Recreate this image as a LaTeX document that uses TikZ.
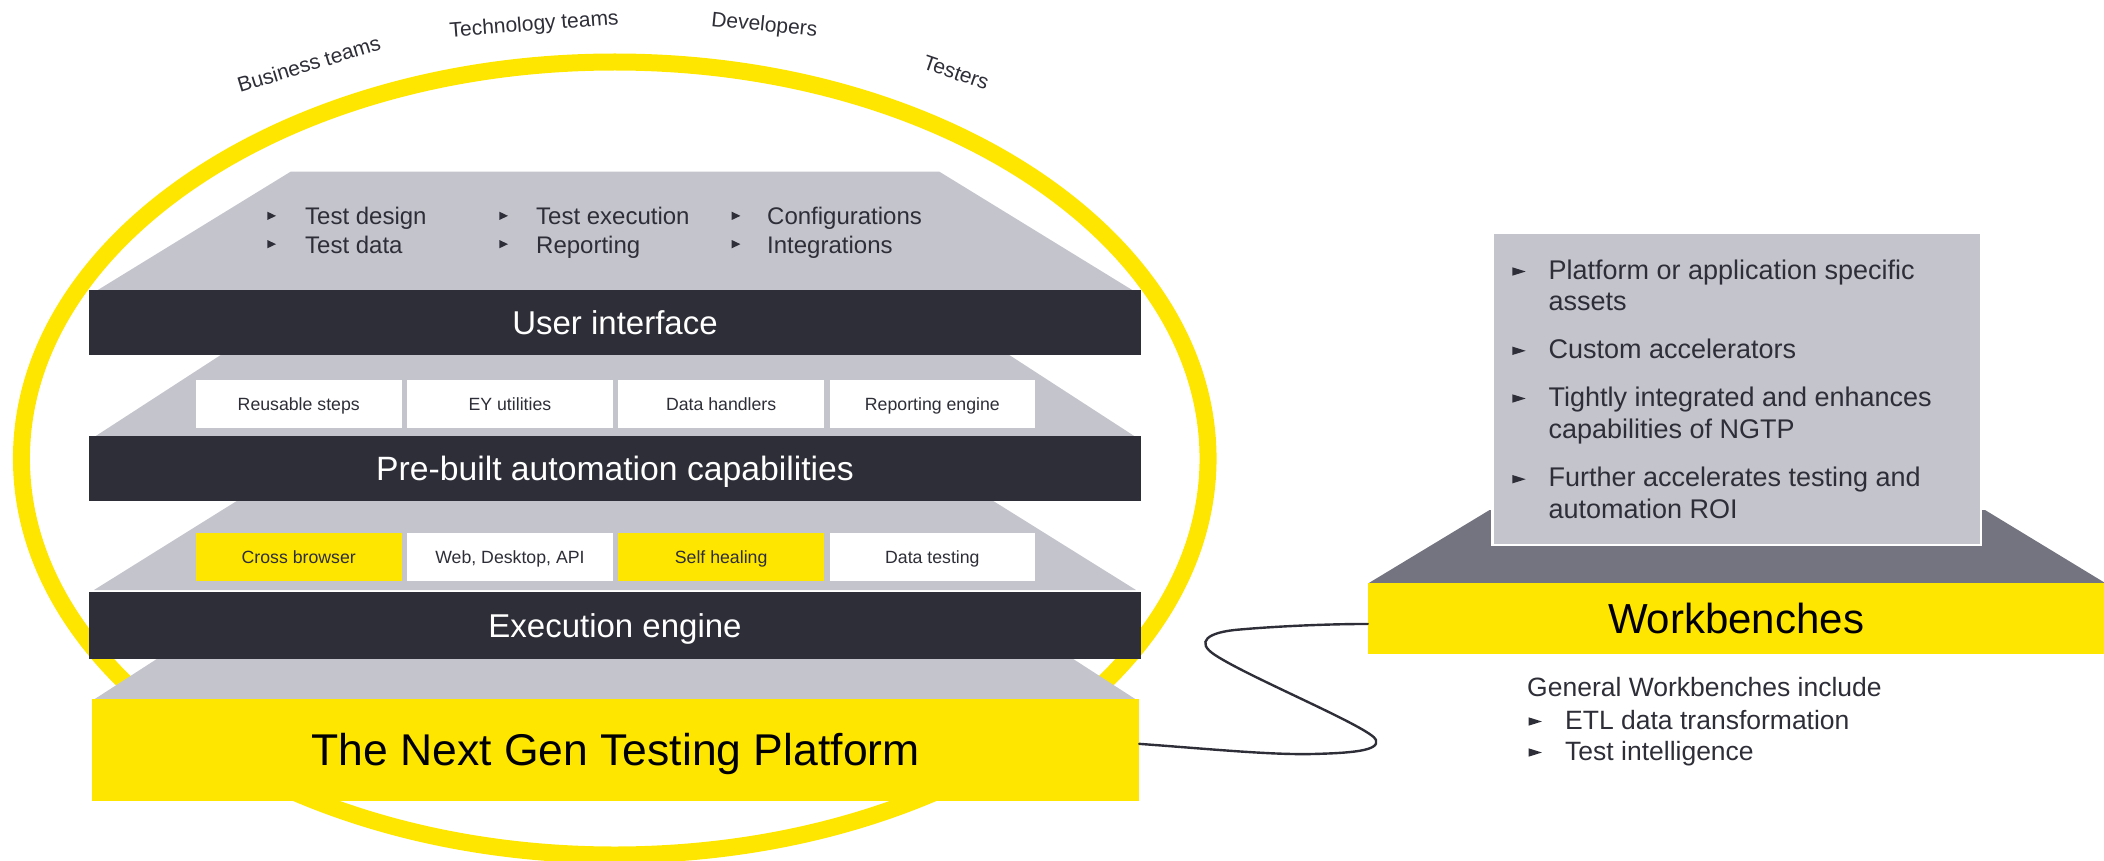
\documentclass[tikz,border=0pt]{standalone}
\usepackage{fontspec}
\setmainfont{Liberation Sans}
\definecolor{eyy}{HTML}{FFE600}
\definecolor{eyd}{HTML}{2E2E38}
\definecolor{eyg}{HTML}{C4C4CD}
\definecolor{eym}{HTML}{747480}
\newcommand{\fsz}[1]{\fontsize{#1}{#1}\selectfont}
\tikzset{
  bar/.style={fill=eyd, text=white, minimum width=1052pt, inner sep=0pt,
    font=\fsz{33}, text height=23.6pt, text depth=0pt},
  cellbox/.style={fill=white, text=eyd, minimum width=205.5pt, minimum height=47.7pt,
    inner sep=0pt, font=\fsz{17.7}, text height=12.7pt, text depth=0pt},
  ycell/.style={cellbox, fill=eyy},
  lst/.style={anchor=base west, inner sep=0pt, text=eyd, font=\fsz{24}},
  rlst/.style={anchor=base west, inner sep=0pt, text=eyd, font=\fsz{27}},
  glst/.style={anchor=base west, inner sep=0pt, text=eyd, font=\fsz{26.5}},
  toplabel/.style={anchor=base west, inner sep=0pt, text=eyd, font=\fsz{21}},
  bulA/.pic={\fill[eyd] (0,-5) -- (0,-13.3) -- (8.7,-9.15) -- cycle;},
  bulB/.pic={\fill[eyd] (0,-3.3) -- (0,-11.7) -- (13.4,-7.5) -- cycle;},
}
\begin{document}
\begin{tikzpicture}[x=1pt, y=-1pt]
\useasboundingbox (0,0) rectangle (2104,861);

% ring
\draw[eyy, line width=17pt] (614.75,458.5) ellipse [x radius=593.3pt, y radius=396.5pt];

% user labels
\node[toplabel, rotate=17] (lbiz) at (240,92.7) {Business teams};
\node[toplabel, rotate=4.4] (ltech) at (450,37.3) {Technology teams};
\node[toplabel, rotate=-5.8] (ldev) at (710.7,26) {Developers};
\node[toplabel, rotate=-19] (ltest) at (921.7,68.3) {Testers};

% trapezoids
\fill[eyg] (290.6,171.7) -- (939.4,171.7) -- (1133,290.5) -- (97,290.5) -- cycle;
\fill[eyg] (221.5,354.5) -- (1008.5,354.5) -- (1135,436.5) -- (95,436.5) -- cycle;
\fill[eyg] (238,500.2) -- (992,500.2) -- (1136,590) -- (94,590) -- cycle;
\fill[eyg] (158,658.2) -- (1072,658.2) -- (1136,699.5) -- (94,699.5) -- cycle;

% top list
\pic at (267.3,225) {bulA};
\pic at (267.3,253.3) {bulA};
\pic at (499.3,225) {bulA};
\pic at (499.3,253.3) {bulA};
\pic at (731.7,225) {bulA};
\pic at (731.7,253.3) {bulA};
\node[lst] (tdes) at (305,225) {Test design};
\node[lst] (tdat) at (305,253.3) {Test data};
\node[lst] (texe) at (536,225) {Test execution};
\node[lst] (trep) at (536,253.3) {Reporting};
\node[lst] (tcfg) at (767,225) {Configurations};
\node[lst] (tint) at (767,253.3) {Integrations};

% bars
\node[bar, minimum height=65pt] (ui) at (615,322.5) {User interface};
\node[bar, minimum height=64.7pt, font=\fsz{33.7}] (pre) at (615,468.35) {Pre-built automation capabilities};
\node[bar, minimum height=67pt] (exe) at (615,625.2) {Execution engine};

% cells
\node[cellbox] (c1) at (298.75,403.85) {Reusable steps};
\node[cellbox] (c2) at (509.95,403.85) {EY utilities};
\node[cellbox] (c3) at (721.15,403.85) {Data handlers};
\node[cellbox] (c4) at (932.35,403.85) {Reporting engine};
\node[ycell] (d1) at (298.75,557) {Cross browser};
\node[cellbox] (d2) at (509.95,557) {Web, Desktop, API};
\node[ycell] (d3) at (721.15,557) {Self healing};
\node[cellbox] (d4) at (932.35,557) {Data testing};

% platform
\node[fill=eyy, minimum width=1047pt, minimum height=101.7pt, inner sep=0pt,
  font=\fsz{44.5}, text height=31.8pt, text depth=0pt] (ngtp) at (615.5,749.85)
  {The Next Gen Testing Platform};

% workbenches
\fill[eym] (1489.6,510) -- (1985,510) -- (2106,583.5) -- (1368,583.5) -- cycle;
\node[fill=eyg, draw=white, line width=2.5pt, minimum width=488.7pt, minimum height=312.3pt,
  inner sep=0pt] (acc) at (1736.65,388.85) {};
\pic at (1512.3,279) {bulB};
\pic at (1512.3,358.3) {bulB};
\pic at (1512.3,406) {bulB};
\pic at (1512.3,486.7) {bulB};
\node[rlst] (a1a) at (1548.3,279) {Platform or application specific};
\node[rlst] (a1b) at (1548.3,310.7) {assets};
\node[rlst] (a2) at (1548.3,358.3) {Custom accelerators};
\node[rlst] (a3a) at (1548.3,406) {Tightly integrated and enhances};
\node[rlst] (a3b) at (1548.3,438.3) {capabilities of NGTP};
\node[rlst] (a4a) at (1548.3,486.7) {Further accelerates testing and};
\node[rlst] (a4b) at (1548.3,518.3) {automation ROI};

\node[fill=eyy, minimum width=736pt, minimum height=70.7pt, inner sep=0pt,
  font=\fsz{42}, text height=30pt, text depth=0pt] (wb) at (1736,618.35) {Workbenches};

\node[glst] (gw) at (1527,696.7) {General Workbenches include};
\pic at (1528.5,729) {bulB};
\pic at (1528.5,760) {bulB};
\node[glst] (g1) at (1565,729) {ETL data transformation};
\node[glst] (g2) at (1565,760) {Test intelligence};

% connector
\draw[eyd, line width=2.4pt, line cap=round]
  ([yshift=6pt]ngtp.east) .. controls (1210,749) and (1270,755) .. (1313,754)
  .. controls (1350,753) and (1380,751) .. (1376,740)
  .. controls (1372,728) and (1250,678) .. (1215,655)
  .. controls (1195,642) and (1207,632) .. (1240,629.5)
  .. controls (1280,626) and (1330,624) .. ([yshift=-5.6pt]wb.west);
\end{tikzpicture}
\end{document}
